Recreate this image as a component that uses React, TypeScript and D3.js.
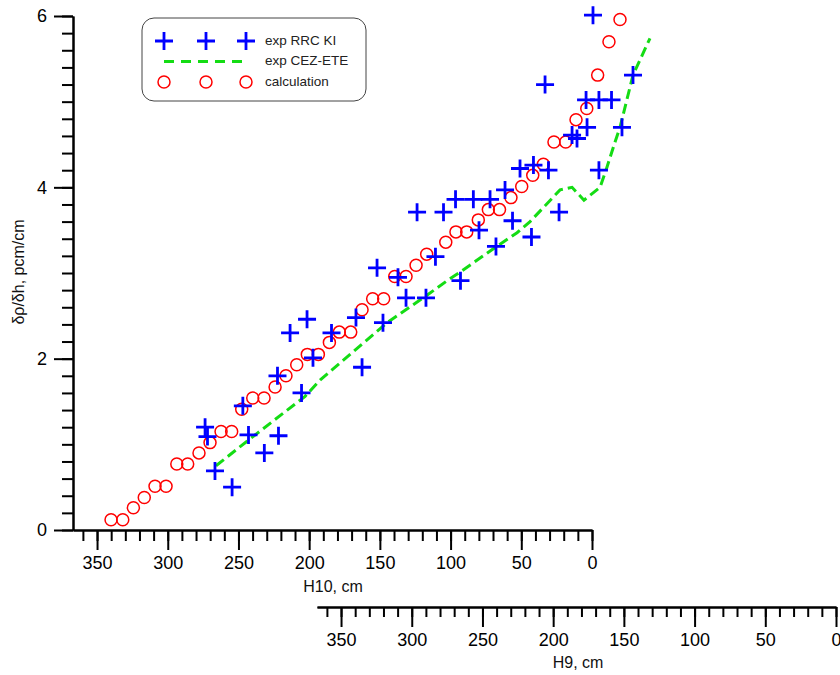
import React, { useEffect, useRef } from "react";
import * as d3 from "d3";

// calculation (red circles): H10 position, cm  /  dp/dh, pcm/cm
const calcH10 = [
  340.1, 331.8, 324.3, 316.6, 309.0, 301.2, 293.6, 285.9, 277.9, 270.1, 262.3, 254.8,
  247.7, 239.9, 231.9, 224.1, 216.4, 208.8, 201.3, 193.5, 185.7, 178.7, 170.6, 162.6,
  155.1, 147.3, 139.5, 131.5, 124.4, 116.9, 103.4, 96.2, 88.6, 80.4, 73.3, 65.4,
  57.3, 49.7, 41.9, 34.4, 26.9, 18.6, 11.3, 3.7, -4.0, -12.0, -19.8,
];
const calcY = [
  0.12, 0.12, 0.26, 0.38, 0.51, 0.51, 0.77, 0.77, 0.9, 1.02, 1.15, 1.15,
  1.41, 1.54, 1.54, 1.67, 1.8, 1.93, 2.05, 2.05, 2.19, 2.31, 2.31, 2.57,
  2.7, 2.7, 2.96, 2.96, 3.09, 3.22, 3.36, 3.48, 3.48, 3.62, 3.74, 3.74,
  3.88, 4.01, 4.14, 4.27, 4.53, 4.53, 4.79, 4.92, 5.31, 5.7, 5.96,
];

// exp RRC KI (blue crosses)
const rrcH10 = [
  273.6, 271.9, 266.6, 254.5, 246.9, 242.9, 231.7, 221.7, 222.4, 213.5, 205.4, 201.5,
  197.3, 184.2, 166.9, 162.6, 152.0, 147.8, 137.2, 131.5, 117.4, 123.7, 110.7, 105.0,
  96.5, 93.0, 83.9, 79.9, 72.1, 67.9, 61.5, 56.2, 50.9, 42.8, 41.4, 33.2,
  30.8, 23.3, 14.1, 10.6, 4.2, 3.5, -0.7, -4.9, -4.9, -13.8, -21.2, -29.0,
];
const rrcY = [
  1.2, 1.09, 0.69, 0.5, 1.45, 1.11, 0.9, 1.1, 1.8, 2.3, 1.6, 2.46,
  2.01, 2.3, 2.48, 1.9, 3.06, 2.42, 2.95, 2.71, 2.71, 3.71, 3.19, 3.71,
  3.86, 2.91, 3.86, 3.5, 3.86, 3.31, 3.97, 3.61, 4.22, 3.42, 4.26, 5.2,
  4.2, 3.71, 4.61, 4.57, 5.02, 4.7, 6.01, 5.02, 4.2, 5.02, 4.7, 5.31,
];

// exp CEZ-ETE (green dashed line)
const cezH10 = [
  265.9, 239.0, 202.9, 192.3, 144.9, 116.7, 102.5, 93.3, 70.0, 53.0,
  43.8, 22.6, 14.1, 5.7, -5.7, -9.9, -16.3, -19.8, -29.0, -41.0,
];
const cezY = [
  0.75, 1.1, 1.56, 1.75, 2.42, 2.74, 2.91, 3.01, 3.28, 3.47,
  3.6, 3.97, 4.0, 3.85, 4.0, 4.2, 4.53, 4.7, 5.31, 5.74,
];

const hTicks = [350, 300, 250, 200, 150, 100, 50, 0];
const yTicks = [0, 2, 4, 6];
const legendLabels = ["exp RRC KI", "exp CEZ-ETE", "calculation"];

const FONT = "Arial, 'Liberation Sans', sans-serif";
const BLUE = "#0000ff";
const RED = "#ff0000";
const GREEN = "#14dc14";

const App = () => {
  const svgRef = useRef<SVGSVGElement>(null);

  useEffect(() => {
    const svg = d3.select(svgRef.current);
    svg.selectAll("*").remove();

    // scales (H10 and H9 share the same cm/px, H9 is shifted right)
    const x = d3.scaleLinear().domain([367, 0]).range([73, 592]);
    const x9 = d3.scaleLinear().domain([367, 0]).range([317, 836]);
    const y = d3.scaleLinear().domain([0, 6]).range([530, 16]);

    const styleAxis = (g: any) => {
      g.selectAll("path").attr("stroke", "#000").attr("stroke-width", 2);
      g.selectAll("line").attr("stroke", "#000").attr("stroke-width", 2);
      g.selectAll("text")
        .attr("fill", "#000")
        .style("font-family", FONT)
        .style("font-size", "18px");
    };

    // y axis
    const yMinor = svg.append("g").attr("transform", "translate(73,0)")
      .call(d3.axisLeft(y).tickValues(d3.range(0, 6.01, 0.2)).tickSize(11).tickSizeOuter(0).tickFormat(() => ""));
    styleAxis(yMinor);
    const yAxis = svg.append("g").attr("transform", "translate(73,0)")
      .call(d3.axisLeft(y).tickValues(yTicks).tickSize(19).tickSizeOuter(0).tickPadding(7).tickFormat(d3.format("d")));
    styleAxis(yAxis);

    // H10 axis
    const xMinor = svg.append("g").attr("transform", "translate(0,530)")
      .call(d3.axisBottom(x).tickValues(d3.range(0, 361, 10)).tickSize(11).tickSizeOuter(0).tickFormat(() => ""));
    styleAxis(xMinor);
    const xAxis = svg.append("g").attr("transform", "translate(0,530)")
      .call(d3.axisBottom(x).tickValues(hTicks).tickSize(20).tickSizeOuter(0).tickPadding(6));
    styleAxis(xAxis);

    // H9 axis
    const x9Minor = svg.append("g").attr("transform", "translate(0,607)")
      .call(d3.axisBottom(x9).tickValues(d3.range(0, 361, 10)).tickSize(10).tickSizeOuter(0).tickFormat(() => ""));
    styleAxis(x9Minor);
    const x9Axis = svg.append("g").attr("transform", "translate(0,607)")
      .call(d3.axisBottom(x9).tickValues(hTicks).tickSize(20).tickSizeOuter(0).tickPadding(6));
    styleAxis(x9Axis);

    // axis titles
    const title = (tx: number, ty: number, txt: string, rot = 0) =>
      svg.append("text")
        .attr("transform", `translate(${tx},${ty}) rotate(${rot})`)
        .attr("text-anchor", "middle")
        .attr("dominant-baseline", "middle")
        .style("font-family", FONT)
        .style("font-size", "16px")
        .attr("fill", "#111")
        .text(txt);
    title(333, 588, "H10, cm");
    title(578, 664, "H9, cm");
    title(20, 272, "δρ/δh, pcm/cm", -90);

    // exp CEZ-ETE line
    const line = d3.line<number>()
      .x((_, i) => x(cezH10[i]))
      .y((d) => y(d));
    svg.append("path")
      .datum(cezY)
      .attr("fill", "none")
      .attr("stroke", GREEN)
      .attr("stroke-width", 3)
      .attr("stroke-dasharray", "10,5")
      .attr("d", line);

    // calculation circles
    svg.append("g").selectAll("circle")
      .data(calcY)
      .enter()
      .append("circle")
      .attr("cx", (_, i) => x(calcH10[i]))
      .attr("cy", (d) => y(d))
      .attr("r", 6)
      .attr("fill", "none")
      .attr("stroke", RED)
      .attr("stroke-width", 1.5);

    // exp RRC KI crosses
    const cross = "M-9,0H9M0,-9V9";
    svg.append("g").selectAll("path")
      .data(rrcY)
      .enter()
      .append("path")
      .attr("transform", (d, i) => `translate(${x(rrcH10[i])},${y(d)})`)
      .attr("d", cross)
      .attr("stroke", BLUE)
      .attr("stroke-width", 2.8);

    // legend
    const lg = svg.append("g");
    lg.append("rect")
      .attr("x", 142).attr("y", 18)
      .attr("width", 224).attr("height", 83)
      .attr("rx", 12)
      .attr("fill", "#fff")
      .attr("stroke", "#444")
      .attr("stroke-width", 1);
    const markX = [164, 206, 246];
    const rowY = [41, 61.5, 82];
    markX.forEach((mx) => {
      lg.append("path")
        .attr("transform", `translate(${mx},${rowY[0]})`)
        .attr("d", cross)
        .attr("stroke", BLUE)
        .attr("stroke-width", 2.8);
      lg.append("circle")
        .attr("cx", mx).attr("cy", rowY[2]).attr("r", 6)
        .attr("fill", "none").attr("stroke", RED).attr("stroke-width", 1.5);
    });
    lg.append("line")
      .attr("x1", 164).attr("x2", 248)
      .attr("y1", rowY[1]).attr("y2", rowY[1])
      .attr("stroke", GREEN)
      .attr("stroke-width", 3)
      .attr("stroke-dasharray", "10,7");
    legendLabels.forEach((t, i) => {
      lg.append("text")
        .attr("x", 265)
        .attr("y", rowY[i])
        .attr("dominant-baseline", "middle")
        .style("font-family", FONT)
        .style("font-size", "13.5px")
        .attr("fill", "#222")
        .text(t);
    });
  }, []);

  return (
    <svg
      ref={svgRef}
      width={840}
      height={675}
      style={{ position: "absolute", left: 0, top: 0, background: "#fff" }}
    />
  );
};

export default App;
